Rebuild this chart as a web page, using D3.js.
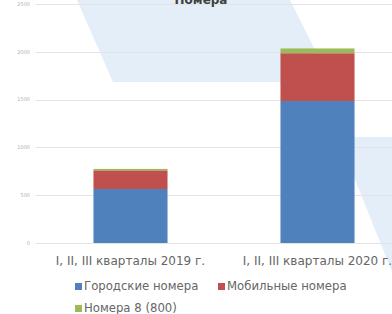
<!DOCTYPE html>
<html>
<head>
<meta charset="utf-8">
<script src="https://cdn.jsdelivr.net/npm/d3@7"></script>
<style>
  body { margin: 0; background: #fff; }
  text { font-family: "DejaVu Sans", sans-serif; }
</style>
</head>
<body>
<div id="chart"></div>
<script>
// данные
const categories = ["I, II, III кварталы 2019 г.", "I, II, III кварталы 2020 г."];
const seriesNames = ["Городские номера", "Мобильные номера", "Номера 8 (800)"];
const cityValues = [565, 1485];
const mobileValues = [195, 500];
const freeValues = [15, 50];
const yTicks = [0, 500, 1000, 1500, 2000, 2500];
const colors = ["#4f81bd", "#c0504d", "#9bbb59"];

let width = 392;
let height = 314;

let svg = d3.select("#chart")
  .append("svg")
  .attr("width", width)
  .attr("height", height);

// светлый фон-подложка
svg.append("polygon")
  .attr("points", "77,0 290,0 331,82 113,82")
  .style("fill", "#e3eef8");
svg.append("polygon")
  .attr("points", "338,137 392,137 392,272")
  .style("fill", "#e3eef8");

let x = d3.scaleBand()
  .domain(categories)
  .range([37, 411])
  .paddingInner(0.604)
  .paddingOuter(0.302);

let y = d3.scaleLinear()
  .domain([0, 2500])
  .range([243, 4]);

// сетка
svg.append("g")
  .selectAll("line")
  .data(yTicks)
  .join("line")
  .attr("x1", 36)
  .attr("x2", width)
  .attr("y1", d => Math.round(y(d)) + 0.5)
  .attr("y2", d => Math.round(y(d)) + 0.5)
  .style("stroke", "#e4e4e4")
  .style("stroke-width", 1);

// подписи оси Y
svg.append("g")
  .selectAll("text")
  .data(yTicks)
  .join("text")
  .attr("x", 30)
  .attr("y", d => y(d))
  .attr("dy", "0.35em")
  .style("text-anchor", "end")
  .style("font-size", "5px")
  .style("fill", "#b0b0b0")
  .text(d => d);

// стек
let rows = categories.map((c, i) => ({
  cat: c,
  [seriesNames[0]]: cityValues[i],
  [seriesNames[1]]: mobileValues[i],
  [seriesNames[2]]: freeValues[i]
}));
let stacked = d3.stack().keys(seriesNames)(rows);

svg.append("g")
  .selectAll("g")
  .data(stacked)
  .join("g")
  .style("fill", (d, i) => colors[i])
  .selectAll("rect")
  .data(d => d)
  .join("rect")
  .attr("x", d => x(d.data.cat))
  .attr("width", x.bandwidth())
  .attr("y", d => y(d[1]))
  .attr("height", d => y(d[0]) - y(d[1]));

// заголовок (в оригинале обрезан сверху)
svg.append("text")
  .attr("x", 201)
  .attr("y", 4)
  .style("text-anchor", "middle")
  .style("font-size", "12px")
  .style("font-weight", "bold")
  .style("fill", "#404040")
  .text("Номера");

// подписи категорий
svg.append("g")
  .selectAll("text")
  .data(categories)
  .join("text")
  .attr("x", d => x(d) + x.bandwidth() / 2)
  .attr("y", 265)
  .style("text-anchor", "middle")
  .style("font-size", "12px")
  .style("fill", "#666")
  .text(d => d);

// легенда
let legendPos = [[75, 286], [218, 286], [75, 308]];
let legend = svg.append("g")
  .selectAll("g")
  .data(seriesNames)
  .join("g")
  .attr("transform", (d, i) => "translate(" + legendPos[i][0] + "," + legendPos[i][1] + ")");

legend.append("rect")
  .attr("x", 0)
  .attr("y", -3)
  .attr("width", 7)
  .attr("height", 7)
  .style("fill", (d, i) => colors[i]);

legend.append("text")
  .attr("x", 9)
  .attr("y", 0)
  .attr("dy", "0.35em")
  .style("font-size", "11.7px")
  .style("fill", "#666")
  .text(d => d);
</script>
</body>
</html>
